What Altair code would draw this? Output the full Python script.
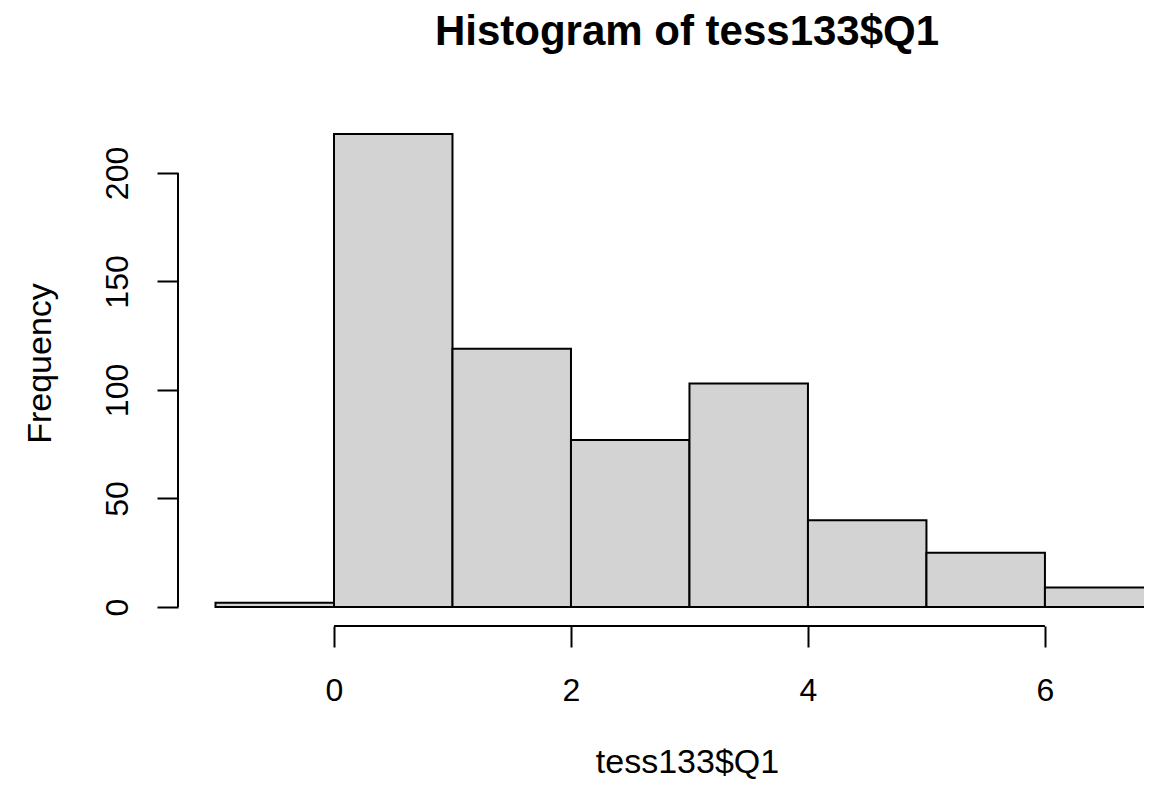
import altair as alt
import pandas as pd

# Histogram bins and counts
bin_start = [-1, 0, 1, 2, 3, 4, 5, 6]
bin_end = [0, 1, 2, 3, 4, 5, 6, 7]
counts = [2, 218, 119, 77, 103, 40, 25, 9]
x_ticks = [0, 2, 4, 6]
y_ticks = [0, 50, 100, 150, 200]
title_text = "Histogram of tess133$Q1"
x_title = "tess133$Q1"
y_title = "Frequency"

df = pd.DataFrame({"start": bin_start, "end": bin_end, "count": counts,
                   "base": [0] * len(counts)})

W, H = 966, 511
FONT = "Liberation Sans"
xs = alt.Scale(domain=[-1.3165, 6.836], nice=False, zero=False)
ys = alt.Scale(domain=[-8.76, 226.7], nice=False, zero=False)

x_axis = alt.Axis(values=x_ticks, domain=False, grid=False, tickSize=21, tickWidth=2,
                  tickColor="black", labelFontSize=32, labelFont=FONT, labelColor="black",
                  labelPadding=53, labelBaseline="alphabetic", labelFlush=False,
                  labelOverlap=False, title=x_title, titleFontSize=34, titleFont=FONT,
                  titleFontWeight="normal", titleColor="black", titleX=509, titleY=146,
                  titleAlign="center", titleBaseline="alphabetic")
y_axis = alt.Axis(values=y_ticks, domain=False, grid=False, tickSize=21, tickWidth=2,
                  tickColor="black", labelFontSize=32, labelFont=FONT, labelColor="black",
                  labelPadding=30, labelAngle=270, labelAlign="center",
                  labelBaseline="alphabetic", labelFlush=False, labelOverlap=False,
                  title=y_title, titleFontSize=34, titleFont=FONT, titleFontWeight="normal",
                  titleColor="black", titleX=-128, titleY=248, titleAngle=270,
                  titleAlign="center", titleBaseline="alphabetic")

bars = alt.Chart(df).mark_rect(fill="#D3D3D3", stroke="black", strokeWidth=2, clip=True).encode(
    x=alt.X("start:Q", scale=xs, axis=x_axis),
    x2="end:Q",
    y=alt.Y("count:Q", scale=ys, axis=y_axis),
    y2="base:Q",
)

xline_df = pd.DataFrame({"start": [x_ticks[0]], "end": [x_ticks[-1]]})
x_line = alt.Chart(xline_df).mark_rule(color="black", strokeWidth=2).encode(
    x=alt.X("start:Q", scale=xs, axis=x_axis),
    x2="end:Q",
    y=alt.value(H),
)

yline_df = pd.DataFrame({"count": [y_ticks[-1]], "base": [y_ticks[0]]})
y_line = alt.Chart(yline_df).mark_rule(color="black", strokeWidth=2).encode(
    y=alt.Y("count:Q", scale=ys, axis=y_axis),
    y2="base:Q",
    x=alt.value(0),
)

title_df = pd.DataFrame({"t": [title_text]})
title = alt.Chart(title_df).mark_text(fontSize=42, fontWeight="bold", font=FONT,
                                      align="center", baseline="alphabetic",
                                      color="black").encode(
    text="t:N",
    x=alt.value(509),
    y=alt.value(-70),
)

chart = alt.layer(bars, x_line, y_line, title).properties(
    width=W, height=H,
    autosize=alt.AutoSizeParams(type="none"),
    padding={"left": 170, "top": 107, "right": 0, "bottom": 156},
    background="white",
).configure_view(stroke=None)

chart.save("out.html", embed_options={"renderer": "svg", "actions": False})
